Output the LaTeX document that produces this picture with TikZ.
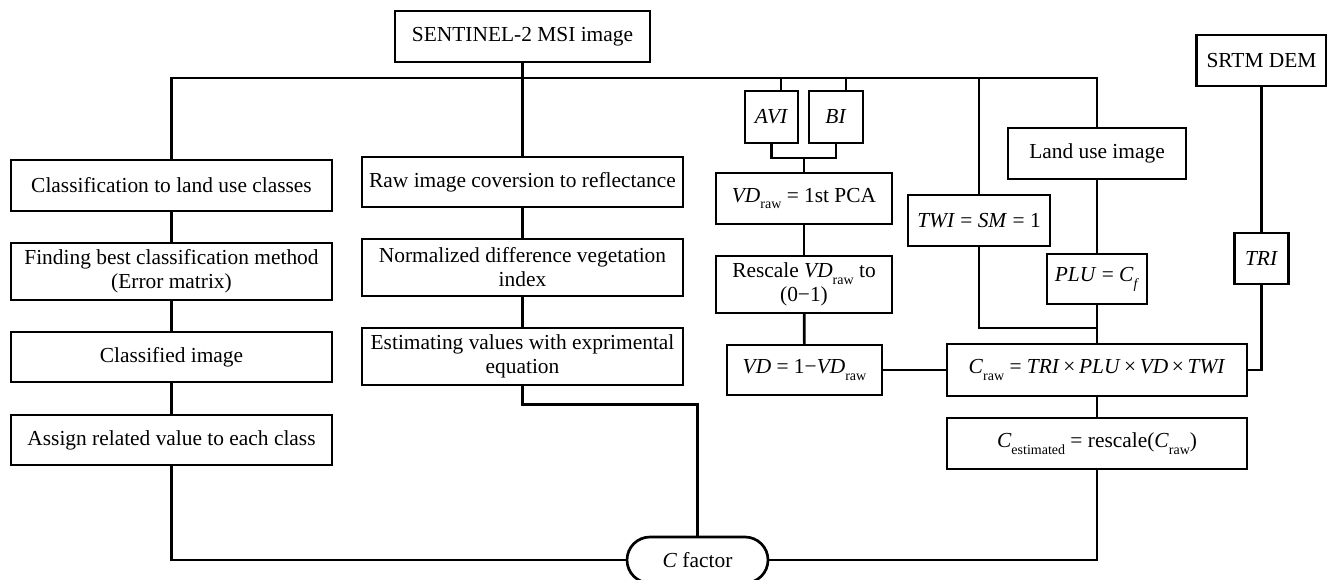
\documentclass[tikz,border=0pt]{standalone}
\usepackage{fontspec}
\setmainfont{Liberation Serif}
\usetikzlibrary{shapes.misc}
\newcommand{\lsub}[1]{\raisebox{-0.32em}{\fontsize{14}{14}\selectfont #1}}
\begin{document}
\begin{tikzpicture}[x=1pt,y=-1pt,
  every node/.style={font=\fontsize{21.4}{24}\selectfont},
  box/.style={draw,line width=2.7pt,inner sep=0pt,align=center,minimum height=51pt},
  conn/.style={line width=2.7pt,line cap=rect}]
\useasboundingbox (0,0) rectangle (1327,579);
% nodes
\node[box,minimum width=255pt] (sent) at (522.5,36.5) {SENTINEL-2 MSI image};
\node[box,minimum width=321pt] (c1) at (171.5,185.5) {Classification to land use classes};
\node[box,minimum width=321pt,minimum height=57pt] (c2) at (171.5,271.5) {Finding best classification method\\(Error matrix)};
\node[box,minimum width=321pt,minimum height=50pt] (c3) at (171.5,357) {Classified image};
\node[box,minimum width=321pt,minimum height=50pt] (c4) at (171.5,440) {Assign related value to each class};
\node[box,minimum width=321pt,minimum height=50pt] (r1) at (522.5,182) {Raw image coversion to reflectance};
\node[box,minimum width=321pt,minimum height=57pt] (r2) at (522.5,267.5) {Normalized difference vegetation\\index};
\node[box,minimum width=321pt,minimum height=57pt] (r3) at (522.5,356.5) {Estimating values with exprimental\\equation};
\node[draw,line width=2.7pt,rounded rectangle,minimum width=141pt,minimum height=46pt,inner sep=0pt] (cf) at (697.5,560) {\textit{C} factor};
\node[box,minimum width=53pt,minimum height=52pt] (avi) at (771.5,117) {\textit{AVI}};
\node[box,minimum width=54pt,minimum height=52pt] (bi) at (836,117) {\textit{BI}};
\node[box,minimum width=176pt] (vdraw) at (804,198.5) {\textit{VD}\lsub{raw} = 1st PCA};
\node[box,minimum width=176pt,minimum height=57pt] (resc) at (804,284.5) {Rescale \textit{VD}\lsub{raw} to\\(0−1)};
\node[box,minimum width=155pt,minimum height=50pt] (vd) at (804.5,370) {\textit{VD} = 1−\textit{VD}\lsub{raw}};
\node[box,minimum width=142pt] (twi) at (979,220.5) {\textit{TWI} = \textit{SM} = 1};
\node[box,minimum width=178pt] (lu) at (1097,153.5) {Land use image};
\node[box,minimum width=100pt,minimum height=50pt] (plu) at (1097,279) {\textit{PLU} = \textit{C}\lsub{\textit{f}}};
\node[box,minimum width=300pt,minimum height=52pt] (craw) at (1097,370) {\textit{C}\lsub{raw} = \textit{TRI}\,×\,\textit{PLU}\,×\,\textit{VD}\,×\,\textit{TWI}};
\node[box,minimum width=300pt] (cest) at (1097,443.5) {\textit{C}\lsub{estimated} = rescale(\textit{C}\lsub{raw})};
\node[box,minimum width=130pt] (srtm) at (1261.5,60.5) {SRTM DEM};
\node[box,minimum width=54pt] (tri) at (1261.5,258.5) {\textit{TRI}};
% bus
\coordinate (busL) at (171.5,78);
\coordinate (busR) at (1097,78);
\coordinate (j1) at (1097,328);
\coordinate (j2) at (804,158);
\draw[conn] (c1.north) -- (busL) -- (busR) -- (lu.north);
\draw[conn] (sent.south) -- (sent.south |- busL);
\draw[conn] (r1.north) -- (r1.north |- busL);
\draw[conn] ([xshift=9.5pt]avi.north) -- ([xshift=9.5pt]avi.north |- busL);
\draw[conn] ([xshift=10pt]bi.north) -- ([xshift=10pt]bi.north |- busL);
\draw[conn] (twi.north) -- (twi.north |- busL);
% left column
\draw[conn] (c1) -- (c2);
\draw[conn] (c2) -- (c3);
\draw[conn] (c3) -- (c4);
\draw[conn] (c4.south) |- (cf.west);
% second column
\draw[conn] (r1) -- (r2);
\draw[conn] (r2) -- (r3);
\draw[conn] (r3.south) -- ++(0,18) -| (cf.north);
% third column
\draw[conn] (avi.south) |- (j2) -| (bi.south);
\draw[conn] (j2) -- (vdraw.north);
\draw[conn] (vdraw) -- (resc);
\draw[conn] (resc) -- (vd);
\draw[conn] (vd.east) -- (craw.west);
% right
\draw[conn] (twi.south) |- (j1);
\draw[conn] (lu) -- (plu);
\draw[conn] (plu.south) -- (craw.north);
\draw[conn] (craw) -- (cest);
\draw[conn] (cest.south) |- (cf.east);
\draw[conn] (srtm) -- (tri);
\draw[conn] (tri.south) |- (craw.east);
\end{tikzpicture}
\end{document}
